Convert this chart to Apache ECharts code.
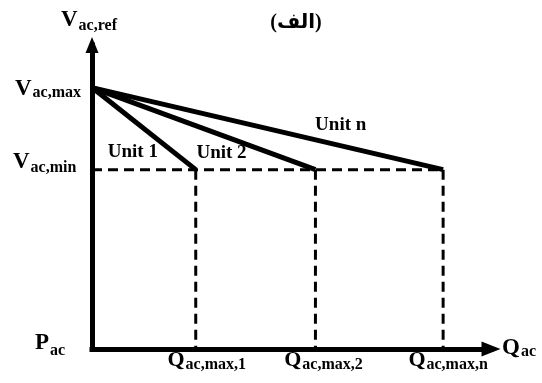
<!DOCTYPE html>
<html><head><meta charset="utf-8">
<script src="https://cdn.jsdelivr.net/npm/echarts@6/dist/echarts.min.js"></script>
<style>html,body{margin:0;padding:0;background:#fff}#c{width:542px;height:383px}</style>
</head><body><div id="c"></div>
<script>
// ---- data ----
const unitNames = ['Unit 1', 'Unit 2', 'Unit n'];
const qMax = [26, 56, 88];            // Q_ac,max,1 / 2 / n
const vMax = 86;                      // V_ac,max
const vMin = 59;                      // V_ac,min
const qTickLabels = [['Q', 'ac,max,1'], ['Q', 'ac,max,2'], ['Q', 'ac,max,n']];
const vTickLabels = [['V', 'ac,max'], ['V', 'ac,min']];
const yAxisName = ['V', 'ac,ref'];
const xAxisName = ['Q', 'ac'];
const originName = ['P', 'ac'];
const titleText = '(الف)';
const axisMax = 100;

// ---- styling / layout ----
const FONT = '"Liberation Serif", "Times New Roman", "DejaVu Sans", serif';
const K = 0.34;
const layout = {
  vref: {dx: -31, dy: -17, subDy: 3},
  vlab: [{dx: -77, dy: 9, subDy: 2}, {dx: -79, dy: 0, subDy: 4}],
  units: [{dx: -88, dy: -11}, {dx: -119, dy: -10}, {dx: -128, dy: -38}],
  q: [{dx: 11, dy: 19, subDy: 2, align: 'center'}, {dx: 8, dy: 19, subDy: 2, align: 'center'}, {dx: 5, dy: 19, subDy: 2, align: 'center'}],
  qac: {dx: 11, dy: 7, subDy: 1},
  pac: {dx: -57, dy: 2, subDy: 5}
};

const chart = echarts.init(document.getElementById('c'), null, {renderer: 'canvas'});
const qn = Math.max(...qMax);
const series = [];
series.push({type: 'line', data: [[0, vMin], [qn, vMin]], showSymbol: false, silent: true, z: 2,
  lineStyle: {color: '#000', width: 3, type: [10, 6]}});
qMax.forEach(q => series.push({type: 'line', data: [[q, vMin], [q, 0]], showSymbol: false, silent: true, z: 2,
  lineStyle: {color: '#000', width: 3, type: [10, 6]}}));
qMax.forEach((q, i) => series.push({type: 'line', name: unitNames[i], data: [[0, vMax], [q, vMin]], showSymbol: false, silent: true, z: 3,
  lineStyle: {color: '#000', width: 5, cap: 'butt'}}));

const axisCommon = {
  type: 'value', min: 0, max: axisMax,
  splitLine: {show: false}, axisTick: {show: false}, axisLabel: {show: false},
  axisLine: {show: true, onZero: false, lineStyle: {color: '#000', width: 5, cap: 'square'}}
};
chart.setOption({
  animation: false,
  backgroundColor: '#fff',
  grid: {left: 92, right: 51, top: 45, bottom: 34, containLabel: false},
  xAxis: Object.assign({}, axisCommon, {axisLine: Object.assign({}, axisCommon.axisLine, {symbol: ['none', 'triangle'], symbolSize: [15, 19]})}),
  yAxis: Object.assign({}, axisCommon, {axisLine: Object.assign({}, axisCommon.axisLine, {symbol: ['none', 'triangle'], symbolSize: [13, 16]})}),
  series: series
});

const mctx = document.createElement('canvas').getContext('2d');
function tw(t, size) { mctx.font = 'bold ' + size + 'px ' + FONT; return mctx.measureText(t).width; }
function txt(t, x, base, size) {
  return {type: 'text', x: x, y: base - K * size, silent: true, z: 10,
    style: {text: t, fontSize: size, fontWeight: 'bold', fontFamily: FONT, fill: '#000', align: 'left', verticalAlign: 'middle'}};
}
function subLabel(parts, p, o, mainS, subS) {
  mainS = mainS || 23; subS = subS || 16;
  const w1 = tw(parts[0], mainS), w2 = parts[1] ? tw(parts[1], subS) : 0, gap = 1;
  const total = w1 + (parts[1] ? gap + w2 : 0);
  let x = p[0] + o.dx;
  if (o.align === 'center') x -= total / 2; else if (o.align === 'right') x -= total;
  const base = p[1] + o.dy;
  const els = [txt(parts[0], x, base, mainS)];
  if (parts[1]) els.push(txt(parts[1], x + w1 + gap, base + (o.subDy || 2), subS));
  return els;
}
const px = v => chart.convertToPixel({gridIndex: 0}, v);
let g = [];
g = g.concat(subLabel(yAxisName, px([0, axisMax]), layout.vref));
g = g.concat(subLabel(vTickLabels[0], px([0, vMax]), layout.vlab[0]));
g = g.concat(subLabel(vTickLabels[1], px([0, vMin]), layout.vlab[1]));
qMax.forEach((q, i) => { g = g.concat(subLabel(qTickLabels[i], px([q, 0]), layout.q[i], 22, 16)); });
g = g.concat(subLabel(xAxisName, px([axisMax, 0]), layout.qac, 23, 16));
g = g.concat(subLabel(originName, px([0, 0]), layout.pac, 23, 16));
qMax.forEach((q, i) => {
  const p = px([q, vMin]);
  g.push(txt(unitNames[i], p[0] + layout.units[i].dx, p[1] + layout.units[i].dy, 19));
});
g.push({type: 'text', x: 296, y: 23, silent: true,
  style: {text: titleText, fontSize: 20, fontWeight: 'bold', fontFamily: FONT, fill: '#000', align: 'center', verticalAlign: 'middle'}});
chart.setOption({graphic: g});
</script>
</body></html>
